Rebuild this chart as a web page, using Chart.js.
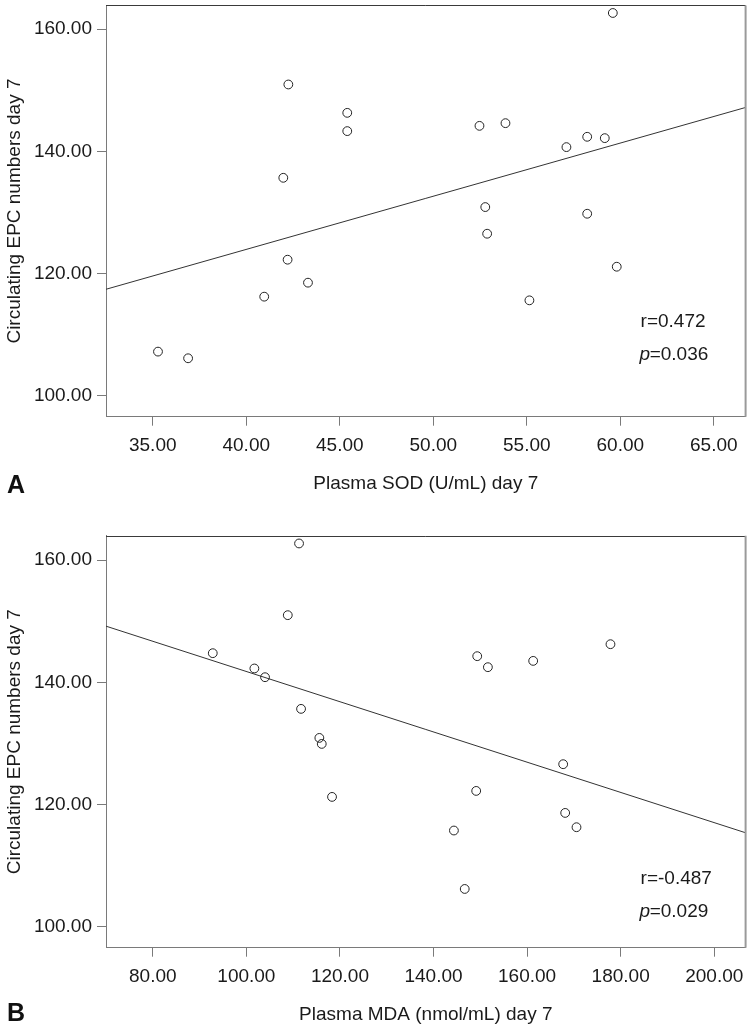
<!DOCTYPE html>
<html>
<head>
<meta charset="utf-8">
<script src="https://cdn.jsdelivr.net/npm/chart.js@4.4.1/dist/chart.umd.min.js"></script>
<style>
html, body { margin: 0; padding: 0; background: #ffffff; }
#wrapA { position: absolute; left: 0; top: 0; width: 751px; height: 520px; }
#wrapB { position: absolute; left: 0; top: 520px; width: 751px; height: 513px; }
canvas { display: block; }
</style>
</head>
<body>
<div id="wrapA"><canvas id="cA" width="751" height="520"></canvas></div>
<div id="wrapB"><canvas id="cB" width="751" height="513"></canvas></div>
<script>
// ---------- Panel A data: Plasma SOD (U/mL) day 7 vs circulating EPC numbers day 7 ----------
const sodValues = [35.28, 36.89, 40.96, 42.21, 43.30, 41.98, 42.25, 45.40, 45.40, 52.47,
                   53.86, 52.78, 52.88, 55.14, 57.12, 58.23, 59.17, 58.23, 59.81, 59.60];
const epcValuesA = [107.25, 106.16, 116.24, 122.29, 118.53, 135.69, 150.96, 146.32, 143.33, 144.19,
                    144.63, 130.90, 126.54, 115.64, 140.71, 142.40, 142.18, 129.81, 121.14, 162.66];
const fitLineAX = [32.5, 66.7];
const fitLineAY = [117.45, 147.2];
const xTickValuesA = [35, 40, 45, 50, 55, 60, 65];

// ---------- Panel B data: Plasma MDA (nmol/mL) day 7 vs circulating EPC numbers day 7 ----------
const mdaValues = [111.26, 108.85, 92.82, 101.71, 103.99, 111.69, 115.60, 116.11, 118.31, 149.34,
                   151.62, 161.30, 177.82, 167.71, 149.12, 168.14, 170.56, 144.36, 146.67];
const epcValuesB = [162.73, 151.00, 144.78, 142.28, 140.85, 135.67, 130.92, 129.94, 121.27, 144.29,
                    142.49, 143.52, 146.25, 126.62, 122.25, 118.65, 116.31, 115.77, 106.21];
const fitLineBX = [70, 206.7];
const fitLineBY = [149.2, 115.4];
const xTickValuesB = [80, 100, 120, 140, 160, 180, 200];

// ---------- shared ----------
const yTickValues = [100, 120, 140, 160];
const yAxisTitle = 'Circulating EPC numbers day 7';
const xAxisTitles = ['Plasma SOD (U/mL) day 7', 'Plasma MDA (nmol/mL) day 7'];
const panelLetters = ['A', 'B'];
const rTexts = ['r=0.472', 'r=-0.487'];
const pValues = ['=0.036', '=0.029'];

const FONT = "'Liberation Sans', Arial, sans-serif";
const FS = 19;
const TEXT = '#1a1a1a';
const AXIS = '#7a7a7a';

const framePlugin = {
  id: 'frameAndTexts',
  afterDraw(chart, args, o) {
    const ctx = chart.ctx;
    const ca = chart.chartArea;
    ctx.save();
    // top border
    ctx.strokeStyle = '#3a3a3a';
    ctx.lineWidth = 1;
    ctx.beginPath();
    ctx.moveTo(ca.left, Math.round(ca.top) + 0.5);
    ctx.lineTo(ca.right, Math.round(ca.top) + 0.5);
    ctx.stroke();
    // right border
    ctx.strokeStyle = '#9a9a9a';
    ctx.lineWidth = 2;
    ctx.beginPath();
    ctx.moveTo(ca.right, ca.top);
    ctx.lineTo(ca.right, ca.bottom);
    ctx.stroke();

    // panel letter
    ctx.fillStyle = '#111';
    ctx.textBaseline = 'middle';
    ctx.textAlign = 'left';
    ctx.font = 'bold 25px ' + FONT;
    ctx.fillText(o.letter, 7, o.letterY);

    // r and p annotations
    ctx.fillStyle = TEXT;
    ctx.font = FS + 'px ' + FONT;
    const tx = ca.right - o.textRight;
    ctx.fillText(o.r, tx, ca.top + o.rY);
    ctx.font = 'italic ' + FS + 'px ' + FONT;
    ctx.fillText('p', tx - 1, ca.top + o.pY);
    const pw = ctx.measureText('p').width;
    ctx.font = FS + 'px ' + FONT;
    ctx.fillText(o.p, tx - 1 + pw - 0.5, ca.top + o.pY);
    ctx.restore();
  }
};

function makeChart(canvasId, xs, ys, fx, fy, xTicks, xMin, xMax, yMin, yMax, xTitle, padTop, xHeight, xTitlePad, texts) {
  const pts = xs.map((v, i) => ({ x: v, y: ys[i] }));
  const fitPts = fx.map((v, i) => ({ x: v, y: fy[i] }));
  return new Chart(document.getElementById(canvasId), {
    type: 'scatter',
    data: {
      datasets: [
        {
          data: pts,
          pointStyle: 'circle',
          pointRadius: 4.4,
          pointBorderWidth: 1,
          pointBorderColor: '#222',
          pointBackgroundColor: 'rgba(255,255,255,0)',
          showLine: false,
          order: 1
        },
        {
          type: 'line',
          data: fitPts,
          borderColor: '#333',
          borderWidth: 1,
          pointRadius: 0,
          fill: false,
          order: 2
        }
      ]
    },
    options: {
      responsive: false,
      animation: false,
      devicePixelRatio: 1,
      layout: { padding: { top: padTop, right: 5, left: 0, bottom: 0 } },
      plugins: {
        legend: { display: false },
        tooltip: { enabled: false },
        frameAndTexts: texts
      },
      scales: {
        x: {
          type: 'linear',
          min: xMin,
          max: xMax,
          afterBuildTicks: s => { s.ticks = xTicks.map(v => ({ value: v })); },
          afterFit: s => { s.height = xHeight; s.paddingLeft = 0; s.paddingRight = 0; },
          grid: { drawOnChartArea: false, drawTicks: true, tickLength: 9, color: AXIS, tickWidth: 1 },
          border: { display: true, color: AXIS, width: 1 },
          ticks: {
            font: { family: FONT, size: FS },
            color: TEXT,
            padding: 8.4,
            maxRotation: 0,
            autoSkip: false,
            callback: v => Number(v).toFixed(2)
          },
          title: {
            display: true,
            text: xTitle,
            font: { family: FONT, size: FS },
            color: TEXT,
            padding: { top: 0, bottom: xTitlePad }
          }
        },
        y: {
          type: 'linear',
          min: yMin,
          max: yMax,
          afterBuildTicks: s => { s.ticks = yTickValues.map(v => ({ value: v })); },
          afterFit: s => { s.width = 106; s.paddingTop = 0; s.paddingBottom = 0; },
          grid: { drawOnChartArea: false, drawTicks: true, tickLength: 9, color: AXIS, tickWidth: 1 },
          border: { display: true, color: AXIS, width: 1 },
          ticks: {
            font: { family: FONT, size: FS },
            color: TEXT,
            padding: 5,
            autoSkip: false,
            callback: v => Number(v).toFixed(2)
          },
          title: {
            display: true,
            text: yAxisTitle,
            font: { family: FONT, size: FS },
            color: TEXT,
            padding: { top: 2.9, bottom: 0 }
          }
        }
      }
    },
    plugins: [framePlugin]
  });
}

makeChart('cA', sodValues, epcValuesA, fitLineAX, fitLineAY, xTickValuesA,
  32.5, 66.7, 96.6, 163.9, xAxisTitles[0], 5.3, 103.3, 24.6,
  { letter: panelLetters[0], letterY: 486, r: rTexts[0], p: pValues[0], textRight: 105, rY: 316.4, pY: 349.7 });

makeChart('cB', mdaValues, epcValuesB, fitLineBX, fitLineBY, xTickValuesB,
  70, 206.7, 96.6, 164.0, xAxisTitles[1], 15.7, 85.3, 7.1,
  { letter: panelLetters[1], letterY: 494, r: rTexts[1], p: pValues[1], textRight: 105, rY: 342.6, pY: 376 });
</script>
</body>
</html>
